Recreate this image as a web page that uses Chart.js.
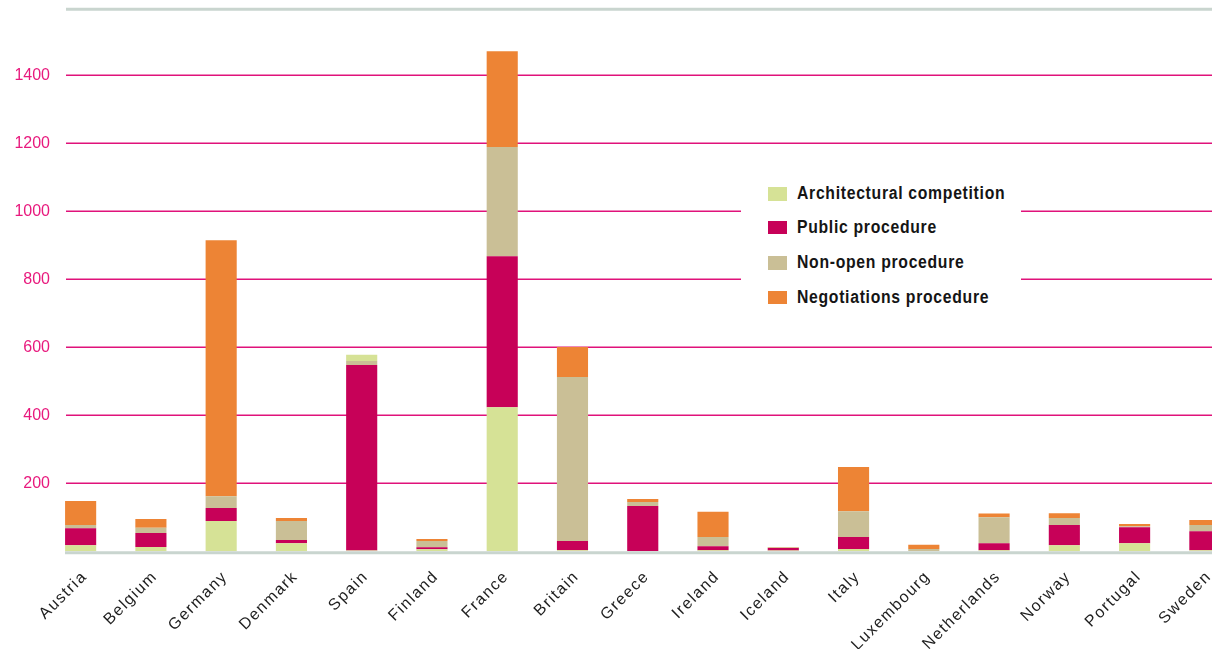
<!DOCTYPE html>
<html>
<head>
<meta charset="utf-8">
<script src="https://cdn.jsdelivr.net/npm/chart.js@4"></script>
<style>
  html, body { margin: 0; padding: 0; background: #fff; overflow: hidden; }
  #wrap { position: relative; width: 1240px; height: 649px; }
  #legend { position: absolute; left: 741px; top: 176px; width: 280px; height: 140px; background: #fff; }
  .item { position: absolute; left: 27px; height: 14px; }
  .sw { position: absolute; left: 0; top: 0; width: 19px; height: 13.5px; }
  .lt { position: absolute; left: 29px; top: -4px; white-space: nowrap; font-family: "Liberation Sans", Arial, sans-serif; font-weight: bold; font-size: 18px; letter-spacing: 0.8px; color: #151515; transform: scaleX(0.875); transform-origin: 0 50%; line-height: 20px; }
</style>
</head>
<body>
<div id="wrap">
  <canvas id="c" width="1240" height="649"></canvas>
  <div id="legend"></div>
</div>
<script>
const countries = ["Austria","Belgium","Germany","Denmark","Spain","Finland","France","Britain","Greece","Ireland","Iceland","Italy","Luxembourg","Netherlands","Norway","Portugal","Sweden"];
const architecturalCompetition = [18, 13, 89, 24, 2, 6, 424, 3, 0, 3, 2, 7, 1, 3, 18, 24, 3];
const publicProcedure          = [50, 41, 38, 9, 546, 6, 444, 27, 133, 12, 8, 35, 0, 21, 59, 47, 56];
const nonOpenProcedure         = [9, 15, 35, 56, 12, 18, 321, 483, 12, 27, 1, 76, 6, 76, 21, 3, 18];
const negotiationsProcedure    = [71, 26, 753, 9, 0, 6, 282, 88, 9, 74, 2, 130, 12, 11, 14, 6, 15];
// Spain's bar carries an architectural-competition cap above the other segments
const architecturalCompetitionTop = [0, 0, 0, 0, 18, 0, 0, 0, 0, 0, 0, 0, 0, 0, 0, 0, 0];
const seriesNames = ["Architectural competition","Public procedure","Non-open procedure","Negotiations procedure"];
const yTicks = [200, 400, 600, 800, 1000, 1200, 1400];
const yMin = 0, yMax = 1600;

const COLORS = ["#d6e296", "#c70158", "#cabf96", "#ed8435"];
const PINK_GRID = "#e0127a";
const PINK_TEXT = "#e8197d";
const GRAY = "#c9d5cf";

const gridPlugin = {
  id: 'customGrid',
  beforeDraw(chart) { chart.ctx.letterSpacing = '0px'; },
  beforeDatasetsDraw(chart) {
    const {ctx, chartArea, scales: {y}} = chart;
    ctx.save();
    ctx.strokeStyle = PINK_GRID;
    ctx.lineWidth = 1.4;
    yTicks.forEach(v => {
      const py = y.getPixelForValue(v);
      ctx.beginPath(); ctx.moveTo(66, py); ctx.lineTo(chartArea.right, py); ctx.stroke();
    });
    ctx.restore();
  },
  afterDatasetsDraw(chart) {
    const {ctx, chartArea, scales: {y}} = chart;
    ctx.save();
    ctx.strokeStyle = GRAY;
    ctx.lineWidth = 3;
    const top = y.getPixelForValue(yMax) + 2;
    const bot = y.getPixelForValue(yMin) + 1.5;
    ctx.beginPath(); ctx.moveTo(66, top); ctx.lineTo(chartArea.right, top); ctx.stroke();
    ctx.beginPath(); ctx.moveTo(65, bot); ctx.lineTo(chartArea.right, bot); ctx.stroke();
    ctx.restore();
    // the category labels (drawn after the datasets) use a tracked-out lettering
    ctx.letterSpacing = '1.5px';
  }
};

const mk = (label, data, color) => ({ label, data, backgroundColor: color, borderWidth: 0, categoryPercentage: 31/70, barPercentage: 1 });

new Chart(document.getElementById('c'), {
  type: 'bar',
  data: {
    labels: countries,
    datasets: [
      mk(seriesNames[0], architecturalCompetition, COLORS[0]),
      mk(seriesNames[1], publicProcedure, COLORS[1]),
      mk(seriesNames[2], nonOpenProcedure, COLORS[2]),
      mk(seriesNames[3], negotiationsProcedure, COLORS[3]),
      mk(seriesNames[0], architecturalCompetitionTop, COLORS[0])
    ]
  },
  options: {
    responsive: false,
    animation: false,
    devicePixelRatio: 1,
    layout: { padding: { top: 7.3, left: 0, right: 0, bottom: 0 } },
    plugins: { legend: { display: false }, tooltip: { enabled: false } },
    scales: {
      x: {
        stacked: true,
        offset: true,
        grid: { display: false, drawTicks: false },
        border: { display: false },
        ticks: { z: 1, autoSkip: false, minRotation: 45, maxRotation: 45, padding: 16, labelOffset: 4, color: '#1e1e1e', font: { family: 'Liberation Sans', size: 16 } },
        afterFit: s => { s.height = 649 - 551.3; }
      },
      y: {
        stacked: true,
        min: yMin, max: yMax,
        grid: { display: false, drawTicks: false },
        border: { display: false },
        ticks: { z: 0, stepSize: 200, mirror: true, crossAlign: 'far', padding: -31.1, color: PINK_TEXT, font: { family: 'Liberation Sans', size: 16 },
          callback: v => yTicks.includes(v) ? String(v) : '' },
        afterFit: s => { s.width = 45.5; }
      }
    }
  },
  plugins: [gridPlugin]
});

// legend
const legend = document.getElementById('legend');
const rowTops = [11.3, 44.7, 80, 114.7];
seriesNames.forEach((n, i) => {
  const it = document.createElement('div');
  it.className = 'item';
  it.style.top = rowTops[i] + 'px';
  it.innerHTML = '<div class="sw" style="background:' + COLORS[i] + '"></div><div class="lt">' + n + '</div>';
  legend.appendChild(it);
});
</script>
</body>
</html>
